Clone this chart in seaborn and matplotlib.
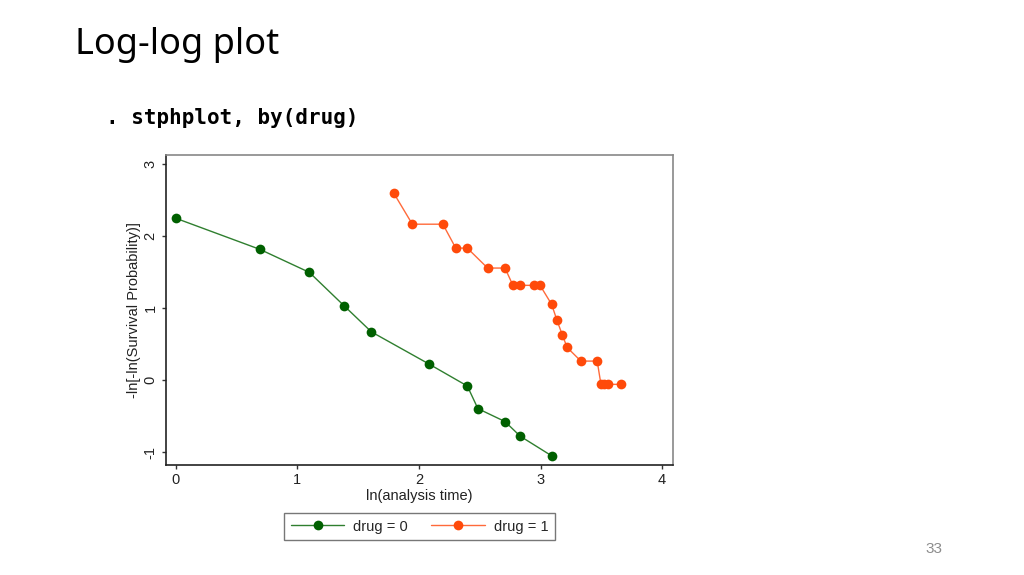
import numpy as np
import pandas as pd
import matplotlib
matplotlib.use("Agg")
import matplotlib.pyplot as plt
from matplotlib.lines import Line2D
import seaborn as sns

# ---- data ----
x_drug0 = [0.000, 0.693, 1.099, 1.386, 1.609, 2.079, 2.398, 2.485, 2.708, 2.833, 3.091]
y_drug0 = [2.247, 1.814, 1.495, 1.029, 0.669, 0.226, -0.083, -0.397, -0.577, -0.780, -1.052]

x_drug1 = [1.792, 1.946, 2.197, 2.303, 2.398, 2.565, 2.708, 2.773, 2.833, 2.944, 2.996,
           3.091, 3.135, 3.178, 3.219, 3.332, 3.466, 3.497, 3.526, 3.555, 3.664]
y_drug1 = [2.598, 2.164, 2.164, 1.832, 1.832, 1.555, 1.555, 1.315, 1.315, 1.315, 1.315,
           1.052, 0.831, 0.632, 0.452, 0.263, 0.263, -0.060, -0.060, -0.060, -0.060]

series_labels = ["drug = 0", "drug = 1"]
x_ticks = [0, 1, 2, 3, 4]
y_ticks = [-1, 0, 1, 2, 3]

title_text = "Log-log plot"
command_text = ". stphplot, by(drug)"
x_label = "ln(analysis time)"
y_label = "-ln[-ln(Survival Probability)]"
page_number = "33"

line_colors = ["#2f7f2f", "#ff6a3a"]
marker_colors = ["#006000", "#ff4a0a"]

sns.set_theme(style="white")
plt.rcParams["font.family"] = ["Liberation Sans", "DejaVu Sans"]
plt.rcParams["axes.unicode_minus"] = False

fig = plt.figure(figsize=(10.24, 5.75), dpi=100)
fig.patch.set_facecolor("white")
ax = fig.add_axes([166 / 1024, 1 - 465 / 575, 506.7 / 1024, 310 / 575])

df0 = pd.DataFrame({"x": x_drug0, "y": y_drug0})
df1 = pd.DataFrame({"x": x_drug1, "y": y_drug1})
for df, lc, mc in [(df0, line_colors[0], marker_colors[0]), (df1, line_colors[1], marker_colors[1])]:
    sns.lineplot(data=df, x="x", y="y", ax=ax, estimator=None, sort=False,
                 color=lc, linewidth=1.0, marker="o", markersize=7,
                 markerfacecolor=mc, markeredgecolor=mc, markeredgewidth=0)

ax.set_xlim(-0.08, 4.087)
ax.set_ylim(-1.18, 3.125)
ax.set_xticks(x_ticks)
ax.set_yticks(y_ticks)
ax.set_xlabel(x_label, fontsize=10.5, color="#222222", labelpad=1)
ax.set_ylabel(y_label, fontsize=10.5, color="#222222", labelpad=2)
ax.tick_params(axis="both", which="major", direction="out", length=3, width=1,
               color="#333333", labelsize=10.5, labelcolor="#222222", pad=3,
               bottom=True, left=True)
ax.tick_params(axis="y", labelrotation=90)
for lab in ax.get_yticklabels():
    lab.set_va("center")

for side in ["left", "bottom"]:
    ax.spines[side].set_color("#222222")
    ax.spines[side].set_linewidth(1.2)
for side in ["top", "right"]:
    ax.spines[side].set_color("#888888")
    ax.spines[side].set_linewidth(1.2)
ax.grid(False)

handles = [Line2D([0], [0], color=line_colors[i], lw=1.0, marker="o", markersize=7,
                  markerfacecolor=marker_colors[i], markeredgewidth=0)
           for i in range(2)]
leg = fig.legend(handles, series_labels, loc="center",
                 bbox_to_anchor=(419.6 / 1024, 1 - 526.5 / 575), ncol=2,
                 frameon=True, fancybox=False, edgecolor="#555555",
                 fontsize=10.5, handlelength=3.7, handletextpad=0.6,
                 columnspacing=1.6, borderpad=0.45, borderaxespad=0)
leg.get_frame().set_linewidth(1.0)

fig.text(75 / 1024, 1 - 54 / 575, title_text, fontsize=26, family=["Noto Sans", "DejaVu Sans"],
         color="black", ha="left", va="baseline")
fig.text(106 / 1024, 1 - 118 / 575, command_text, fontsize=15, family=["DejaVu Sans Mono"],
         fontweight="bold", color="black", ha="left", va="center")
fig.text(934 / 1024, 1 - 549 / 575, page_number, fontsize=11, family=["Liberation Sans", "DejaVu Sans"],
         color="#8c8c8c", ha="center", va="center")

fig.savefig("out.png", dpi=100, facecolor="white")
